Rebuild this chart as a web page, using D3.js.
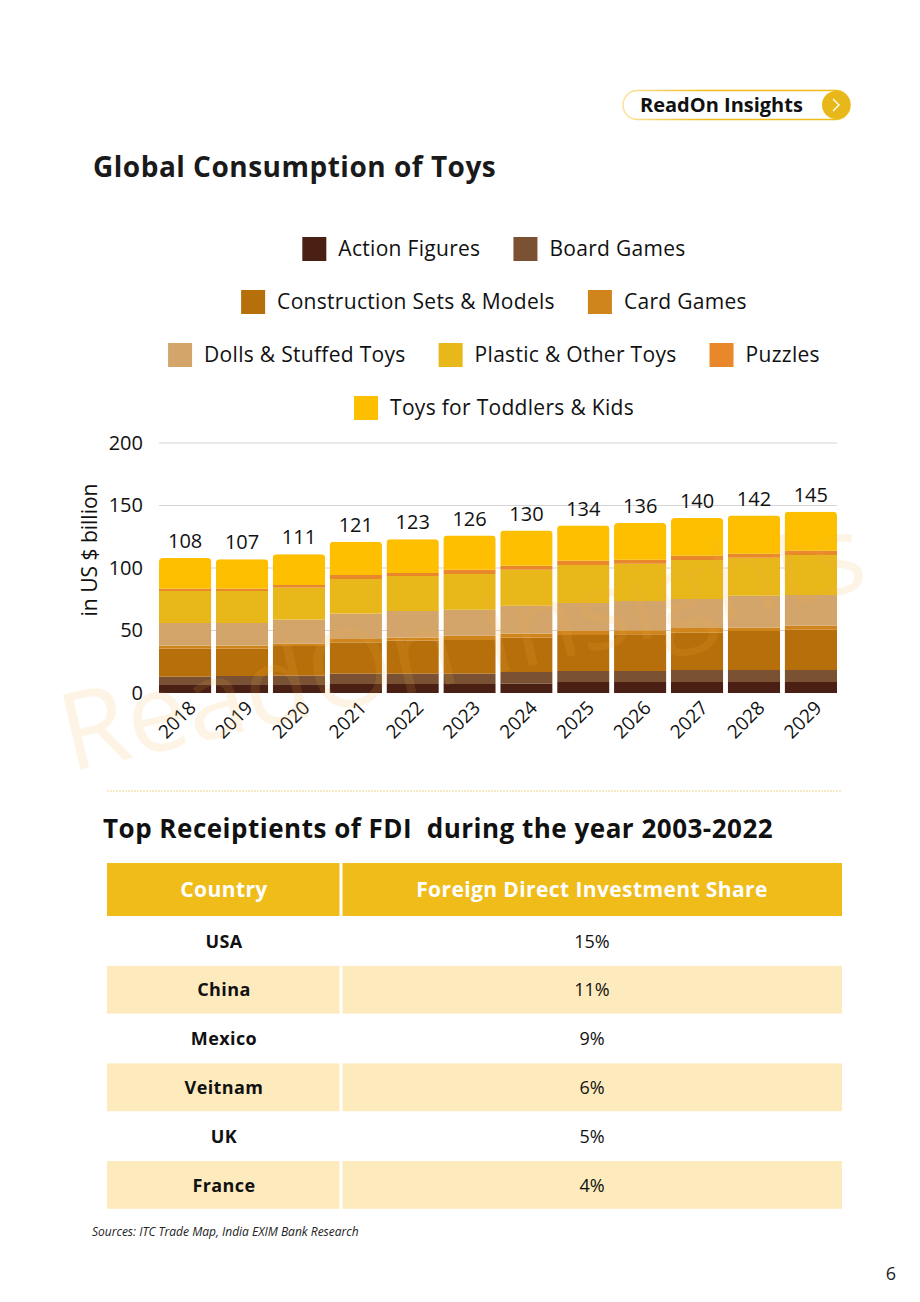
<!DOCTYPE html>
<html>
<head>
<meta charset="utf-8">
<script src="https://cdn.jsdelivr.net/npm/d3@7"></script>
<style>
  body { margin: 0; background: #fff; }
  svg { display: block; font-family: "Open Sans", sans-serif; }
</style>
</head>
<body>
<div id="page"></div>
<script>
// chart data
const years = ["2018","2019","2020","2021","2022","2023","2024","2025","2026","2027","2028","2029"];
const categories = ["Action Figures","Board Games","Construction Sets & Models","Card Games",
    "Dolls & Stuffed Toys","Plastic & Other Toys","Puzzles","Toys for Toddlers & Kids"];
const actionFigures = [7, 7, 7, 7.2, 7.2, 7.2, 7.4, 8.8, 8.8, 8.8, 8.8, 8.8];
const boardGames = [6.1, 6.6, 6.9, 8.3, 8.3, 8.3, 9.4, 8.8, 8.8, 9.6, 9.6, 9.6];
const construction = [22.4, 21.9, 23.7, 25, 26.4, 26.9, 27.5, 28.8, 29.4, 29.8, 31.2, 32.2];
const cardGames = [2.4, 2.4, 1.8, 2.7, 2.4, 3.4, 3.1, 3.2, 3.2, 3.8, 2.6, 3.2];
const dolls = [18.1, 18.1, 19.3, 20.3, 21.3, 20.8, 22.4, 22.4, 23.4, 23.2, 25.6, 24.6];
const plastic = [25.6, 25.6, 25.6, 27.7, 28, 28.6, 28.8, 30.4, 29.8, 31.2, 30.4, 32];
const puzzles = [1.9, 1.9, 2.1, 3.2, 2.4, 3.4, 3.2, 3.4, 3.2, 3.4, 3.2, 3.4];
const toddlers = [24.5, 23.5, 24.6, 26.6, 27, 27.4, 28.2, 28.2, 29.4, 30.2, 30.6, 31.2];
const yTicks = [0, 50, 100, 150, 200];

// table data
const countries = ["USA", "China", "Mexico", "Veitnam", "UK", "France"];
const fdiShare = ["15%", "11%", "9%", "6%", "5%", "4%"];

const colors = ["#4a1f14", "#7a5233", "#b66f0a", "#cf841c", "#d4a56a", "#e8b71a", "#e8882a", "#fdbf00"];

const series = [actionFigures, boardGames, construction, cardGames, dolls, plastic, puzzles, toddlers];
const rows = years.map((y, i) => {
    const r = { year: y };
    categories.forEach((c, j) => r[c] = series[j][i]);
    return r;
});

const W = 920, H = 1302;
const svg = d3.select("#page").append("svg")
    .attr("width", W)
    .attr("height", H);

// logo pill
const grad = svg.append("defs").append("linearGradient").attr("id", "pill");
grad.append("stop").attr("offset", "0%").attr("stop-color", "#fbe3a0");
grad.append("stop").attr("offset", "35%").attr("stop-color", "#f0bc1a");
grad.append("stop").attr("offset", "100%").attr("stop-color", "#f0bc1a");
svg.append("rect")
    .attr("x", 623).attr("y", 90.5).attr("width", 227).attr("height", 29).attr("rx", 14.5)
    .attr("fill", "#fff").attr("stroke", "url(#pill)").attr("stroke-width", 1.6);
svg.append("text")
    .attr("x", 640).attr("y", 112)
    .attr("font-size", 20).attr("font-weight", 700).attr("fill", "#111")
    .text("ReadOn Insights");
svg.append("circle").attr("cx", 836).attr("cy", 105).attr("r", 14).attr("fill", "#e8b71a");
svg.append("path").attr("d", "M833,99 L839,105 L833,111")
    .attr("fill", "none").attr("stroke", "#fff").attr("stroke-width", 1.4);

// title
svg.append("text")
    .attr("x", 93).attr("y", 177)
    .attr("font-size", 28).attr("font-weight", 700).attr("letter-spacing", 0.5).attr("fill", "#1a1a1a")
    .text("Global Consumption of Toys");

// legend
const legendRows = [[0, 1], [2, 3], [4, 5, 6], [7]];
const legendY = [249, 302, 355, 408];
const legend = svg.append("g").attr("font-size", 21).attr("letter-spacing", 0.3).attr("fill", "#111");
legendRows.forEach((items, r) => {
    const g = legend.append("g");
    let x = 0;
    items.forEach(k => {
        g.append("rect").attr("x", x).attr("y", legendY[r] - 12).attr("width", 24).attr("height", 24)
            .attr("fill", colors[k]);
        const t = g.append("text").attr("x", x + 36).attr("y", legendY[r]).attr("dy", "0.35em")
            .text(categories[k]);
        x += 36 + t.node().getComputedTextLength() + 33;
    });
    const w = x - 33;
    g.attr("transform", `translate(${494 - w / 2},0)`);
});

// chart
const x = d3.scaleBand().domain(years).range([159, 837]).paddingInner(0.08).paddingOuter(0);
const y = d3.scaleLinear().domain([0, 200]).range([693, 443]);

svg.append("g")
    .selectAll("line").data(yTicks.slice(1)).join("line")
    .attr("x1", 159).attr("x2", 837)
    .attr("y1", d => y(d)).attr("y2", d => y(d))
    .attr("stroke", "#d4d4d4").attr("stroke-width", 1);

const yAxis = svg.append("g")
    .attr("transform", "translate(143,0)")
    .call(d3.axisLeft(y).tickValues(yTicks).tickSize(0).tickPadding(0));
yAxis.select(".domain").remove();
yAxis.selectAll("text").attr("font-size", 20).attr("fill", "#111")
    .attr("font-family", "Open Sans, sans-serif");

svg.append("text")
    .attr("transform", "translate(97,550) rotate(-90)")
    .attr("text-anchor", "middle").attr("font-size", 21).attr("fill", "#111")
    .text("in US $ billion");

const stack = d3.stack().keys(categories);
const stacked = stack(rows);

const defs = svg.select("defs");
years.forEach((yr, i) => {
    const total = d3.sum(series, s => s[i]);
    defs.append("clipPath").attr("id", "clip" + i)
        .append("rect")
        .attr("x", x(yr)).attr("y", y(total))
        .attr("width", x.bandwidth()).attr("height", y(0) - y(total) + 10)
        .attr("rx", 4);
});

const barsG = svg.append("g");
stacked.forEach((layer, k) => {
    barsG.append("g").attr("fill", colors[k])
        .selectAll("rect").data(layer).join("rect")
        .attr("clip-path", (d, i) => `url(#clip${i})`)
        .attr("x", d => x(d.data.year))
        .attr("y", d => y(d[1]))
        .attr("width", x.bandwidth())
        .attr("height", d => y(d[0]) - y(d[1]));
});

// totals
svg.append("g")
    .selectAll("text").data(years).join("text")
    .attr("x", d => x(d) + x.bandwidth() / 2)
    .attr("y", (d, i) => y(d3.sum(series, s => s[i])) - 10)
    .attr("text-anchor", "middle").attr("font-size", 20).attr("fill", "#111")
    .text((d, i) => Math.round(d3.sum(series, s => s[i])));

// x labels
svg.append("g")
    .selectAll("text").data(years).join("text")
    .attr("transform", d => `translate(${x(d) + x.bandwidth() / 2 + 12},${709}) rotate(-45)`)
    .attr("text-anchor", "end").attr("font-size", 19).attr("fill", "#111")
    .text(d => d);

// watermark
svg.append("text")
    .attr("transform", "translate(70,772) rotate(-13)")
    .attr("font-size", 108).attr("fill", "#f5b041").attr("opacity", 0.13)
    .text("ReadOn Insights");

// separator
svg.append("line")
    .attr("x1", 107).attr("x2", 842).attr("y1", 791).attr("y2", 791)
    .attr("stroke", "#f0d890").attr("stroke-width", 1).attr("stroke-dasharray", "2,1");

// table title
svg.append("text")
    .attr("x", 103).attr("y", 838)
    .attr("font-size", 26).attr("font-weight", 700).attr("letter-spacing", 0.5).attr("fill", "#111")
    .attr("xml:space", "preserve")
    .text("Top Receiptients of FDI  during the year 2003-2022");

// table
const tX = 107, tW = 735, colX = 341, headY = 863, headH = 53, rowH = 48.8;
const tbl = svg.append("g");
tbl.append("rect").attr("x", tX).attr("y", headY).attr("width", tW).attr("height", headH).attr("fill", "#f0bc1a");
tbl.append("text").attr("x", 224).attr("y", headY + headH / 2).attr("dy", "0.35em")
    .attr("text-anchor", "middle").attr("font-size", 21).attr("font-weight", 700)
    .attr("letter-spacing", 0.4).attr("fill", "#fff")
    .text("Country");
tbl.append("text").attr("x", 592).attr("y", headY + headH / 2).attr("dy", "0.35em")
    .attr("text-anchor", "middle").attr("font-size", 21).attr("font-weight", 700)
    .attr("letter-spacing", 0.4).attr("fill", "#fff")
    .text("Foreign Direct Investment Share");

const rowG = tbl.selectAll("g.row").data(countries).join("g").attr("class", "row")
    .attr("transform", (d, i) => `translate(0,${headY + headH + 1 + i * rowH})`);
rowG.append("rect").attr("x", tX).attr("y", 0).attr("width", tW).attr("height", rowH - 1)
    .attr("fill", (d, i) => i % 2 ? "#feebbd" : "#fff");
rowG.append("text").attr("x", 224).attr("y", rowH / 2).attr("dy", "0.35em")
    .attr("text-anchor", "middle").attr("font-size", 18).attr("font-weight", 700)
    .attr("letter-spacing", 0.4).attr("fill", "#111")
    .text(d => d);
rowG.append("text").attr("x", 592).attr("y", rowH / 2).attr("dy", "0.35em")
    .attr("text-anchor", "middle").attr("font-size", 18).attr("fill", "#111")
    .text((d, i) => fdiShare[i]);
tbl.append("line").attr("x1", colX).attr("x2", colX).attr("y1", headY)
    .attr("y2", headY + headH + 1 + countries.length * rowH)
    .attr("stroke", "#fff").attr("stroke-width", 3);

// footer
svg.append("text")
    .attr("x", 92).attr("y", 1236)
    .attr("font-size", 12).attr("font-style", "italic").attr("fill", "#222")
    .text("Sources: ITC Trade Map, India EXIM Bank Research");
svg.append("text")
    .attr("x", 896).attr("y", 1280).attr("text-anchor", "end")
    .attr("font-size", 18).attr("fill", "#222")
    .text("6");
</script>
</body>
</html>
